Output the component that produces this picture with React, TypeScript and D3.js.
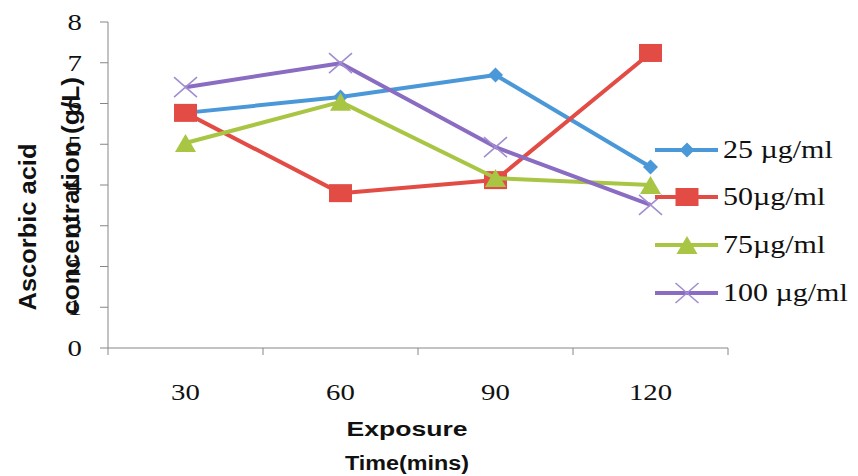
import * as d3 from "d3";

const categories = ["30", "60", "90", "120"];
const conc25 = [5.77, 6.16, 6.7, 4.44];
const conc50 = [5.77, 3.8, 4.12, 7.24];
const conc75 = [5.03, 6.04, 4.17, 4.0];
const conc100 = [6.4, 6.99, 4.93, 3.51];
const seriesNames = ["25 µg/ml", "50µg/ml", "75µg/ml", "100 µg/ml"];
const yTicks = [0, 1, 2, 3, 4, 5, 6, 7, 8];

type Shape = "diamond" | "square" | "triangle" | "cross";

const styles: { color: string; shape: Shape; w: number; h: number }[] = [
  { color: "#4a98d8", shape: "diamond", w: 15, h: 15 },
  { color: "#e24c45", shape: "square", w: 23, h: 18 },
  { color: "#a9c544", shape: "triangle", w: 21, h: 18 },
  { color: "#8a6cc2", shape: "cross", w: 23, h: 20 },
];

const serif = "'Liberation Serif', 'Times New Roman', serif";
const sans = "'Liberation Sans', Arial, sans-serif";
const SX = 1.2; // the reference text is a bit stretched sideways

function Marker({ x, y, i }: { x: number; y: number; i: number }) {
  const { color, shape, w, h } = styles[i];
  const hw = w / 2;
  const hh = h / 2;
  if (shape === "square")
    return <rect x={x - hw} y={y - hh} width={w} height={h} fill={color} />;
  if (shape === "diamond")
    return (
      <polygon
        points={`${x},${y - hh} ${x + hw},${y} ${x},${y + hh} ${x - hw},${y}`}
        fill={color}
      />
    );
  if (shape === "triangle")
    return (
      <polygon
        points={`${x},${y - hh} ${x + hw},${y + hh} ${x - hw},${y + hh}`}
        fill={color}
      />
    );
  return (
    <path
      d={`M${x - hw},${y - hh}L${x + hw},${y + hh}M${x - hw},${y + hh}L${x + hw},${y - hh}`}
      stroke="#a08ed0"
      strokeWidth={1.6}
      fill="none"
    />
  );
}

export default function App() {
  const series = [conc25, conc50, conc75, conc100];

  const x = d3.scaleBand<string>().domain(categories).range([108, 728]).padding(0);
  const y = d3.scaleLinear().domain([0, 8]).range([348, 22]);
  const cx = (c: string) => (x(c) ?? 0) + x.bandwidth() / 2;

  const line = d3
    .line<number>()
    .x((_, i) => cx(categories[i]))
    .y((d) => y(d));

  const axisColor = "#868686";
  const bounds = [...categories.map((c) => x(c) ?? 0), 728];
  const legendY = [150, 197, 245, 293];

  return (
    <svg
      width={858}
      height={476}
      style={{ position: "absolute", left: 0, top: 0, background: "#fff" }}
    >
      {/* y axis */}
      <line x1={108} x2={108} y1={y(8)} y2={y(0)} stroke={axisColor} />
      {yTicks.map((t) => (
        <g key={t}>
          <line x1={100} x2={108} y1={y(t)} y2={y(t)} stroke={axisColor} />
          <text
            transform={`translate(82,${y(t) + 8}) scale(${SX},1)`}
            textAnchor="end"
            fontFamily={serif}
            fontSize={24}
            fill="#111"
          >
            {t}
          </text>
        </g>
      ))}

      {/* x axis */}
      <line x1={108} x2={728} y1={y(0)} y2={y(0)} stroke={axisColor} />
      {bounds.map((b, i) => (
        <line key={i} x1={b} x2={b} y1={y(0)} y2={y(0) + 7} stroke={axisColor} />
      ))}
      {categories.map((c) => (
        <text
          key={c}
          transform={`translate(${cx(c)},400) scale(${SX},1)`}
          textAnchor="middle"
          fontFamily={serif}
          fontSize={24}
          fill="#111"
        >
          {c}
        </text>
      ))}

      {/* axis titles */}
      <text
        x={407}
        y={436}
        textAnchor="middle"
        fontFamily={sans}
        fontWeight="bold"
        fontSize={20}
        textLength={121}
        lengthAdjust="spacingAndGlyphs"
        fill="#111"
      >
        Exposure
      </text>
      <text
        x={407}
        y={470}
        textAnchor="middle"
        fontFamily={sans}
        fontWeight="bold"
        fontSize={20}
        textLength={124}
        lengthAdjust="spacingAndGlyphs"
        fill="#111"
      >
        Time(mins)
      </text>
      <g transform={`translate(36,227) scale(1.1,1) rotate(-90)`}>
        <text
          textAnchor="middle"
          fontFamily={sans}
          fontWeight="bold"
          fontSize={22}
          textLength={167}
          lengthAdjust="spacingAndGlyphs"
          fill="#111"
        >
          Ascorbic acid
        </text>
      </g>
      <g transform={`translate(79,196) scale(1.1,1) rotate(-90)`}>
        <text
          textAnchor="middle"
          fontFamily={sans}
          fontWeight="bold"
          fontSize={22}
          textLength={238}
          lengthAdjust="spacingAndGlyphs"
          fill="#111"
        >
          concentration (g/L)
        </text>
      </g>

      {/* series */}
      {series.map((s, i) => (
        <g key={i}>
          <path
            d={line(s) ?? ""}
            fill="none"
            stroke={styles[i].color}
            strokeWidth={4}
            strokeLinejoin="round"
          />
          {s.map((v, j) => (
            <Marker key={j} x={cx(categories[j])} y={y(v)} i={i} />
          ))}
        </g>
      ))}

      {/* legend */}
      {seriesNames.map((name, i) => (
        <g key={name}>
          <line
            x1={655}
            x2={718}
            y1={legendY[i]}
            y2={legendY[i]}
            stroke={styles[i].color}
            strokeWidth={4}
          />
          <Marker x={687} y={legendY[i]} i={i} />
          <text
            transform={`translate(723,${legendY[i] + 8}) scale(${SX},1)`}
            fontFamily={serif}
            fontSize={25}
            fill="#111"
          >
            {name}
          </text>
        </g>
      ))}
    </svg>
  );
}
